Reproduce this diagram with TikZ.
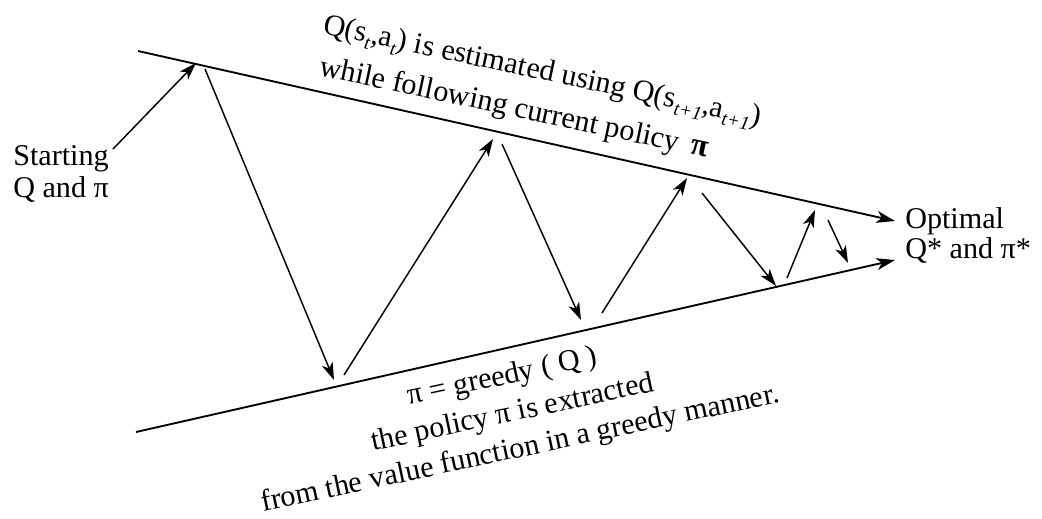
\documentclass[tikz,border=0pt]{standalone}
\usepackage{fontspec}
\setmainfont{Liberation Serif}
\usetikzlibrary{arrows.meta}
\newcommand\sbi[1]{\raisebox{-0.22em}{\fontsize{14.5}{14.5}\selectfont\itshape #1}}
\begin{document}
\begin{tikzpicture}[x=0.75pt,y=-0.75pt,
  txt/.style={inner sep=0pt, font=\fontsize{22.6}{24}\selectfont},
  rail/.style={line width=1.4pt, -{Stealth[length=14pt,width=9pt,inset=4pt]}},
  zig/.style={line width=1.1pt, -{Stealth[length=13pt,width=8.5pt,inset=3.5pt]}}]
\useasboundingbox (0,0) rectangle (1042,518);
% rails
\coordinate (tl) at (138,51);
\coordinate (tr) at (895,221);
\coordinate (bl) at (136,432);
\coordinate (br) at (895,260);
\draw[rail] (tl) -- (tr);
\draw[rail] (bl) -- (br);
% zigzag points
\coordinate (s0) at (113,149);
\coordinate (p1) at (196,63);
\coordinate (q1) at (205,69);
\coordinate (p2) at (334,380);
\coordinate (q2) at (344,375);
\coordinate (p3) at (493,139);
\coordinate (q3) at (502,144);
\coordinate (p4) at (581,320);
\coordinate (q4) at (602,313);
\coordinate (p5) at (687,178);
\coordinate (q5) at (702,193);
\coordinate (p6) at (776,286);
\coordinate (q6) at (787,278);
\coordinate (p7) at (815,210);
\coordinate (q7) at (828,220);
\coordinate (p8) at (848,263);
\draw[zig] (s0) -- (p1);
\draw[zig] (q1) -- (p2);
\draw[zig] (q2) -- (p3);
\draw[zig] (q3) -- (p4);
\draw[zig] (q4) -- (p5);
\draw[zig] (q5) -- (p6);
\draw[zig] (q6) -- (p7);
\draw[zig] (q7) -- (p8);
% side labels
\node[txt, anchor=base west] (st1) at (13,165) {Starting};
\node[txt, anchor=base west] (st2) at (13,197) {Q and π};
\node[txt, anchor=base west] (op1) at (905,228) {Optimal};
\node[txt, anchor=base west] (op2) at (905,258) {Q* and π*};
% top text
\node[txt, anchor=base west, rotate=-12] (tt1) at (322,33)
  {Q(s\sbi{t},a\sbi{t}) is estimated using Q(s\sbi{t+1},a\sbi{t+1})};
\node[txt, anchor=base west, rotate=-12] (tt2) at (318,75)
  {while following current policy\hspace{0.4em}{\fontsize{24}{24}\selectfont\bfseries π}};
% bottom text
\node[txt, anchor=base west, rotate=12] (bt1) at (409,405) {π = greedy ( Q )};
\node[txt, anchor=base west, rotate=12] (bt2) at (373,451) {the policy π is extracted};
\node[txt, anchor=base west, rotate=12] (bt3) at (263,512) {from the value function in a greedy manner.};
\end{tikzpicture}
\end{document}
